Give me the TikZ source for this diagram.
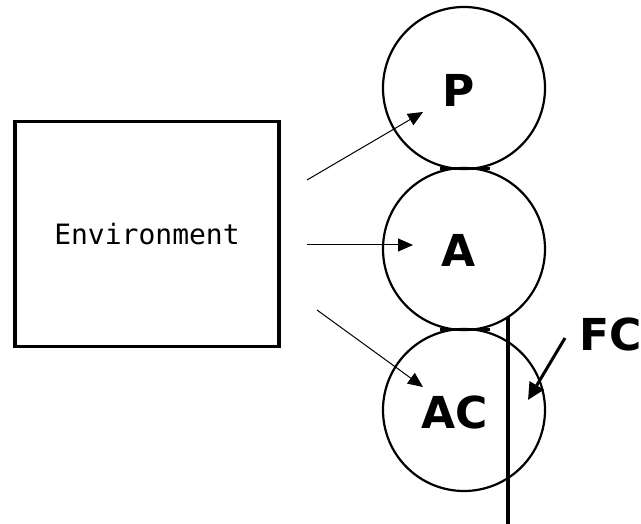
\documentclass[tikz,border=0pt]{standalone}
\usepackage{fontspec}
\setmainfont{DejaVu Sans}
\newfontfamily\envfont{DejaVu Sans Mono}
\usetikzlibrary{arrows.meta, calc}

\tikzset{
  envbox/.style={draw, line width=3.2pt, minimum width=264pt, minimum height=225pt, font=\envfont\fontsize{28}{30}\selectfont},
  ball/.style={draw, circle, line width=2.2pt, minimum size=162pt, inner sep=0pt, font=\bfseries\fontsize{44}{48}\selectfont},
  flow/.style={line width=1pt, -{Triangle[length=15pt, width=13pt]}},
  push/.style={line width=3pt, -{Triangle[length=17pt, width=16pt]}},
  rod/.style={line width=4pt}
}

\begin{document}
\begin{tikzpicture}[x=1pt, y=-1pt]
\useasboundingbox (0,0) rectangle (641,524);

% Environment box
\node[envbox] (env) at (147,234) {Environment};

% Stacked circles
\node[ball] (p) at (464,88) {};
\node[ball] (a) at (464,249) {};
\node[ball] (ac) at (464,410) {};
\node[font=\bfseries\fontsize{44}{48}\selectfont] (plbl) at (459,90) {P};
\node[font=\bfseries\fontsize{44}{48}\selectfont] (albl) at (459,250) {A};
\node[font=\bfseries\fontsize{44}{48}\selectfont] (aclbl) at (455,412) {AC};

% joints between circles
\draw[line width=3pt] (440,169) -- (490,169);
\draw[line width=3pt] (440,330) -- (490,330);

% Arrows from the environment
\coordinate (p from) at (307,180);
\coordinate (a from) at (307,245);
\coordinate (ac from) at (317,310);
\draw[flow] (p from) -- ($(p.center)+(-41,24)$);
\draw[flow] (a from) -- ($(a.center)+(-51,-4)$);
\draw[flow] (ac from) -- ($(ac.center)+(-41,-23)$);

% FC rod
\coordinate (rod top) at (508,317);
\coordinate (rod end) at (508,524);
\draw[rod] (rod top) -- (rod end);

% FC label and arrow
\node[font=\bfseries\fontsize{44}{48}\selectfont] (fc) at (611,334) {FC};
\coordinate (fc from) at (565,338);
\draw[push] (fc from) -- ($(ac.center)+(64,-10)$);

\end{tikzpicture}
\end{document}
